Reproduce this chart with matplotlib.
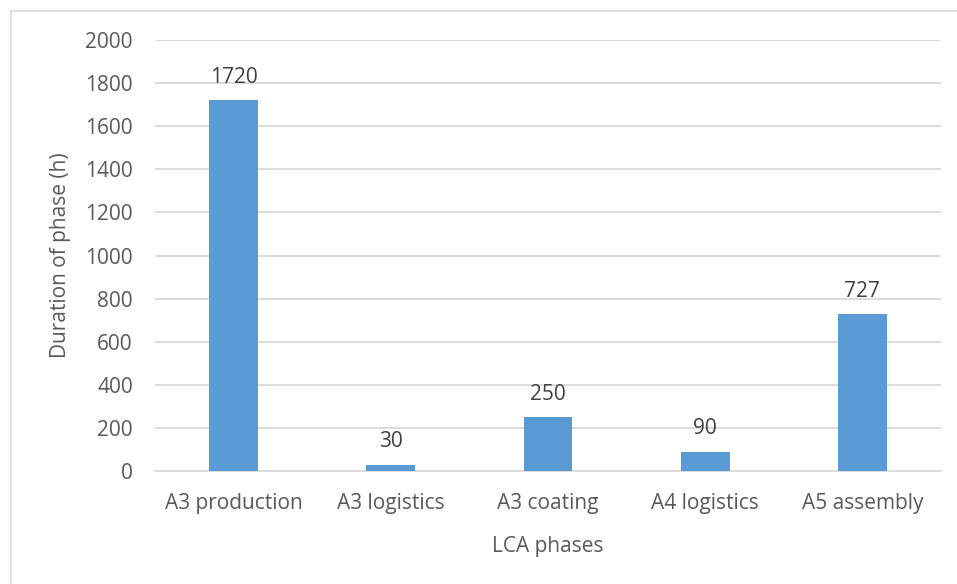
import matplotlib
matplotlib.use("Agg")
import matplotlib.pyplot as plt
from matplotlib.lines import Line2D

# LCA phase durations
phases = ["A3 production", "A3 logistics", "A3 coating", "A4 logistics", "A5 assembly"]
hours = [1720, 30, 250, 90, 727]
y_ticks = [0, 200, 400, 600, 800, 1000, 1200, 1400, 1600, 1800, 2000]

W, H, DPI = 957, 584, 100
plt.rcParams["font.family"] = ["Open Sans", "DejaVu Sans"]
text_color = "#595959"
grid_color = "#D9D9D9"
bar_color = "#5B9BD5"
fs = 15

fig = plt.figure(figsize=(W / DPI, H / DPI), dpi=DPI)
fig.patch.set_facecolor("white")

# plot area in pixel terms
left, right, bottom, top = 155, 941, 471, 40
ax = fig.add_axes([left / W, 1 - bottom / H, (right - left) / W, (bottom - top) / H])

x = range(len(phases))
bars = ax.bar(x, hours, width=0.31, color=bar_color, zorder=3)
for xi, v in zip(x, hours):
    ax.annotate(f"{v}", (xi, v), xytext=(0, 9), textcoords="offset points",
                ha="center", va="bottom", fontsize=fs, color="#404040")

ax.set_xlim(-0.5, len(phases) - 0.5)
ax.set_ylim(0, 2000)
ax.set_yticks(y_ticks)
ax.set_xticks(list(x))
ax.set_xticklabels(phases)
ax.tick_params(axis="both", length=0, labelsize=fs, colors=text_color)
ax.tick_params(axis="y", pad=16)
ax.tick_params(axis="x", pad=16)
ax.yaxis.grid(True, color=grid_color, linewidth=1.3, zorder=0)
for s in ["top", "right", "left"]:
    ax.spines[s].set_visible(False)
ax.spines["bottom"].set_color(grid_color)
ax.spines["bottom"].set_linewidth(1.3)

ax.set_xlabel("LCA phases", fontsize=fs, color=text_color, labelpad=16)
ax.set_ylabel("Duration of phase (h)", fontsize=fs, color=text_color, labelpad=10)

# chart frame (left and top edges)
fig.add_artist(Line2D([10.5 / W, 10.5 / W], [0, 1 - 11 / H], transform=fig.transFigure,
                      color=grid_color, linewidth=1.2))
fig.add_artist(Line2D([10.5 / W, 1], [1 - 11 / H, 1 - 11 / H], transform=fig.transFigure,
                      color=grid_color, linewidth=1.2))

fig.savefig("out.png", dpi=DPI, facecolor="white")
